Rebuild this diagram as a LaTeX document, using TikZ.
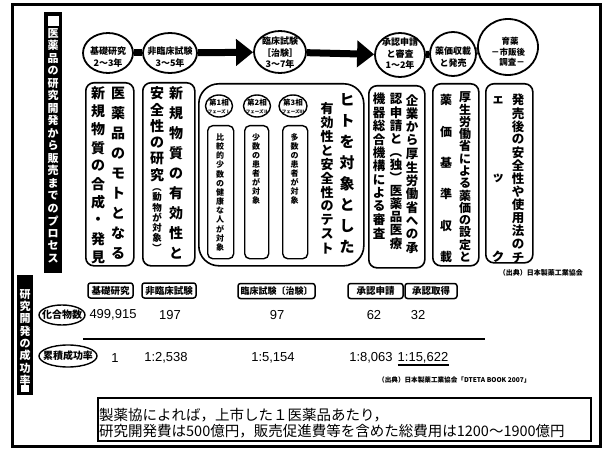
\documentclass[tikz,border=0pt]{standalone}
\usepackage{fontspec}
\usepackage{graphicx}
\setmainfont{Noto Sans CJK JP}
\newfontfamily\numf{Liberation Sans}
\usetikzlibrary{shapes.geometric,arrows.meta}
\makeatletter
\newdimen\vs@p
\def\vs@stop{\vs@stop}
\def\vs@loop#1{%
  \ifx\vs@stop#1\else
    \vbox to\vs@p{\vss\hbox to0pt{\hss#1\hss}\vss}%
    \expandafter\vs@loop
  \fi}
\newcommand\vstack[2]{\vbox{\offinterlineskip\vs@p=#1\relax\vs@loop#2\vs@stop}}
\makeatother
\newcommand\vlp{\rotatebox[origin=c]{-90}{（}}
\newcommand\vrp{\rotatebox[origin=c]{-90}{）}}
\tikzset{
 vc/.style={anchor=north, inner sep=0pt},
 circ/.style={ellipse, draw, line width=1.8pt, inner sep=0pt, fill=white},
 ctext/.style={align=center, inner sep=0pt, font=\fontsize{9}{11.5}\selectfont\bfseries},
 bigbox/.style={draw, line width=1.6pt, rounded corners=8pt, inner sep=0pt, anchor=north west},
 subbox/.style={draw, line width=1.4pt, rounded corners=5pt, inner sep=0pt, anchor=north west},
 lbl/.style={draw, line width=1.5pt, rounded corners=2.5pt, inner sep=0pt, minimum height=15pt, font=\fontsize{9.5}{9.5}\selectfont\bfseries},
 num/.style={inner sep=0pt, font=\numf\fontsize{13}{13}\selectfont},
 link/.style={line width=7pt},
 bigarrow/.style={line width=7pt, -{Triangle[length=17pt,width=26pt]}},
 bar/.style={fill=black, inner sep=0pt, anchor=north west},
 icon/.style={fill=white, inner sep=0pt},
}
\newcommand\vcol[6]{\node[vc,font=\fontsize{#5}{#5}\selectfont\bfseries] (#1) at (#2,{#3-#4/2}) {\vstack{#4pt}{#6}};}
\begin{document}
\begin{tikzpicture}[x=1pt,y=-1pt]
\useasboundingbox (0,0) rectangle (606,452);
\draw[line width=3pt] (12,5) rectangle (600,446);
% title bars
\node[bar, minimum width=18pt, minimum height=261pt] (bar1) at (44,12) {};
\node[icon, minimum width=11pt, minimum height=10pt] (ic1) at (53,21) {};
\node[bar, minimum width=16pt, minimum height=120pt] (bar2) at (17,275) {};
\node[icon, minimum width=8pt, minimum height=7pt] (ic2) at (25,388) {};
\begin{scope}[nodes={text=white}]
\vcol{t1}{53}{33}{12.5}{11}{医薬品の研究開発から販売までのプロセス}
\vcol{t2}{25}{294}{12.3}{11}{研究開発の成功率}
\end{scope}
% stage circles
\node[circ, minimum width=50pt, minimum height=40pt] (c1) at (108,53) {};
\node[circ, minimum width=54pt, minimum height=40pt] (c2) at (170,53) {};
\node[circ, minimum width=52pt, minimum height=42pt] (c3) at (280,52) {};
\node[circ, minimum width=50pt, minimum height=44pt] (c4) at (400,55) {};
\node[circ, minimum width=46pt, minimum height=44pt] (c5) at (453,54) {};
\node[circ, minimum width=60pt, minimum height=56pt] (c6) at (508,47) {};
\draw[link] (c1) -- (c2);
\draw[bigarrow] (c2) -- (c3);
\draw[bigarrow] (c3) -- (c4);
\draw[link] (c4) -- (c5);
\draw[link] (c5) -- (c6);
\node[ctext] (c1t) at (108,57) {基礎研究\\2〜3年};
\node[ctext] (c2t) at (170,57) {非臨床試験\\3〜5年};
\node[ctext] (c3t) at (280,53) {臨床試験\\［治験］\\3〜7年};
\node[ctext] (c4t) at (400,54) {承認申請\\と審査\\1〜2年};
\node[ctext] (c5t) at (453,57) {薬価収載\\と発売};
\node[ctext, font=\fontsize{8.5}{10.5}\selectfont\bfseries] (c6t) at (508,52) {\hspace{4pt}育薬\\－市販後\\\hspace{8pt}調査－};
% big boxes
\node[bigbox, minimum width=48pt, minimum height=183pt] (b1) at (85,82) {};
\node[bigbox, minimum width=52pt, minimum height=183pt] (b2) at (142,82) {};
\node[bigbox, rounded corners=20pt, minimum width=165pt, minimum height=182pt] (b3) at (198,83) {};
\node[bigbox, minimum width=56pt, minimum height=182pt] (b4) at (368,85) {};
\node[bigbox, minimum width=46pt, minimum height=182pt] (b5) at (432,83) {};
\node[bigbox, minimum width=47pt, minimum height=179pt] (b6) at (485,83) {};
\vcol{b1r}{118}{93}{20}{14}{医薬品のモトとなる}
\vcol{b1l}{98}{93}{18.2}{14}{新規物質の合成・発見}
\vcol{b2r}{176}{93}{20}{14}{新規物質の有効性と}
\vcol{b2l}{157}{93}{16.4}{14}{安全性の研究}
\vcol{b2p}{157}{187}{10.2}{9.5}{{\vlp}動物が対象{\vrp}}
\vcol{b3r}{347}{100}{21}{15}{ヒトを対象とした}
\vcol{b3l}{327}{108}{14}{13}{有効性と安全性のテスト}
% phases
\node[circ, line width=1.4pt, minimum width=27pt, minimum height=22pt] (p1) at (219,106) {};
\node[circ, line width=1.4pt, minimum width=27pt, minimum height=22pt] (p2) at (257,106) {};
\node[circ, line width=1.4pt, minimum width=28pt, minimum height=22pt] (p3) at (293,106) {};
\node[inner sep=0pt, font=\fontsize{7.5}{7.5}\selectfont\bfseries] (p1a) at (219,103) {第1相};
\node[inner sep=0pt, font=\fontsize{4.5}{4.5}\selectfont\bfseries] (p1b) at (219,112) {フェーズⅠ};
\node[inner sep=0pt, font=\fontsize{7.5}{7.5}\selectfont\bfseries] (p2a) at (257,103) {第2相};
\node[inner sep=0pt, font=\fontsize{4.5}{4.5}\selectfont\bfseries] (p2b) at (257,112) {フェーズⅡ};
\node[inner sep=0pt, font=\fontsize{7.5}{7.5}\selectfont\bfseries] (p3a) at (293,103) {第3相};
\node[inner sep=0pt, font=\fontsize{4.5}{4.5}\selectfont\bfseries] (p3b) at (293,112) {フェーズⅢ};
\node[subbox, minimum width=26pt, minimum height=133pt] (sb1) at (207,125) {};
\node[subbox, minimum width=24pt, minimum height=133pt] (sb2) at (244,125) {};
\node[subbox, minimum width=25pt, minimum height=133pt] (sb3) at (282,125) {};
\vcol{s1}{220}{137}{9.2}{8}{比較的少数の健康な人が対象}
\vcol{s2}{256}{137}{9}{8}{少数の患者が対象}
\vcol{s3}{294.5}{137}{9}{8}{多数の患者が対象}
% approval etc.
\vcol{b4a}{412}{100}{13.4}{12.5}{企業から厚生労働省への承}
\vcol{b4b}{396}{99}{13.1}{12.5}{認申請と{\vlp}独{\vrp}医薬品医療}
\vcol{b4c}{379}{99}{13.4}{12.5}{機器総合機構による審査}
\vcol{b5r}{465}{97}{12.3}{12}{厚生労働省による薬価の設定と}
\vcol{b5l}{446}{100}{15.7}{12}{薬　価　基　準　収　載}
\vcol{b6r}{518}{100}{13.1}{12.5}{発売後の安全性や使用法のチ}
\vcol{b6l}{498}{100}{39.25}{12.5}{ェ　ッ　ク}
\node[inner sep=0pt, anchor=east, font=\fontsize{7}{7}\selectfont\bfseries] (src1) at (583,273) {（出典）日本製薬工業協会};
% success-rate table
\node[lbl, minimum width=45pt] (l1) at (110.5,290.5) {基礎研究};
\node[lbl, minimum width=54pt] (l2) at (169,290.5) {非臨床試験};
\node[lbl, minimum width=77pt, font=\fontsize{9}{9}\selectfont\bfseries] (l3) at (276.5,291) {臨床試験〔治験〕};
\node[lbl, minimum width=55pt] (l4) at (375.5,291) {承認申請};
\node[lbl, minimum width=52pt] (l5) at (431,291) {承認取得};
\node[ellipse, draw, line width=1.4pt, minimum width=46pt, minimum height=20pt, inner sep=0pt] (e1) at (62,315) {};
\node[inner sep=0pt, font=\fontsize{10}{10}\selectfont\bfseries] (e1t) at (62,315) {化合物数};
\node[ellipse, draw, line width=1.4pt, minimum width=58pt, minimum height=22pt, inner sep=0pt] (e2) at (68,356) {};
\node[inner sep=0pt, font=\fontsize{10}{10}\selectfont\bfseries] (e2t) at (68,356) {累積成功率};
\node[num] (n11) at (113,315) {499,915};
\node[num] (n12) at (170,315) {197};
\node[num] (n13) at (277,315) {97};
\node[num] (n14) at (374,315) {62};
\node[num] (n15) at (418,315) {32};
\coordinate (s1) at (83,339);
\coordinate (s2) at (485,339);
\draw[line width=2pt] (s1) -- (s2);
\node[num] (n21) at (115,358) {1};
\node[num] (n22) at (166,358) {1:2,538};
\node[num] (n23) at (273,358) {1:5,154};
\node[num] (n24) at (371,358) {1:8,063};
\node[num] (n25) at (423,358) {1:15,622};
\draw[line width=1.2pt] ([yshift=-1.5pt]n25.south west) -- ([yshift=-1.5pt]n25.south east);
\node[inner sep=0pt, anchor=west, font=\fontsize{6.6}{6.6}\selectfont\bfseries] (src2) at (378,380) {（出典）日本製薬工業協会「DTETA BOOK 2007」};
% bottom note
\node[draw, line width=1.5pt, minimum width=493pt, minimum height=43pt, inner sep=0pt, anchor=north west] (bb) at (97,397) {};
\node[inner sep=0pt, anchor=west, align=left, font=\fontsize{14.5}{16}\selectfont] (bbt) at (99,423) {製薬協によれば，上市した１医薬品あたり，\\研究開発費は500億円，販売促進費等を含めた総費用は1200〜1900億円};
\end{tikzpicture}
\end{document}
